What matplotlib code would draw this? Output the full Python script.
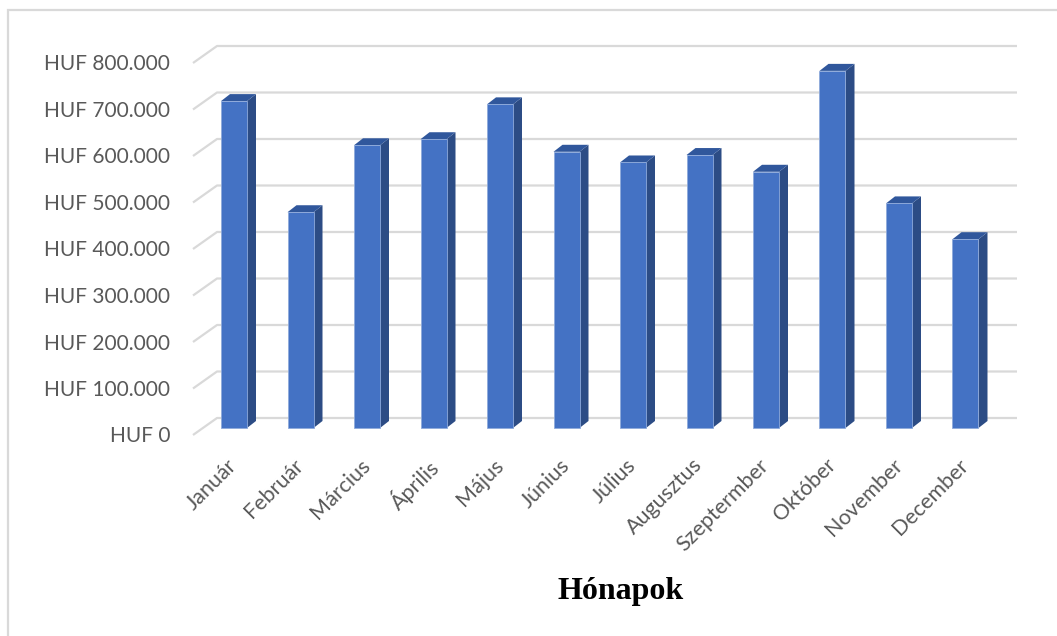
import matplotlib
matplotlib.use("Agg")
import matplotlib.pyplot as plt
from matplotlib.patches import Rectangle, Polygon

# ---- data -------------------------------------------------------------
months = ["Január", "Február", "Március", "Április", "Május", "Június",
          "Július", "Augusztus", "Szeptermber", "Október", "November", "December"]
revenue = [703000, 464000, 608000, 621000, 696000, 594000,
           571000, 587000, 551000, 768000, 483000, 406000]
y_ticks = [0, 100000, 200000, 300000, 400000, 500000, 600000, 700000, 800000]
x_title = "Hónapok"


def huf(v):
    s = f"{v:,}".replace(",", ".")
    return f"HUF {s}"


# ---- layout (pixels) ----------------------------------------------------
W, H, DPI = 1057, 636, 100
CAT_PX = 66.5            # distance between category centres
UNIT_PX = 46.5 / 100000  # pixels per HUF
AX_L, AX_R = 193, 1017   # horizontal extent of the plot region
AX_T, AX_B = 40, 440     # vertical extent of the plot region
ZERO_ROW = 428           # row of the value 0 at the bar plane
FIRST_CENTER = 234       # column of the first category centre

fig = plt.figure(figsize=(W / DPI, H / DPI), dpi=DPI)
fig.patch.set_facecolor("white")

ax = fig.add_axes([AX_L / W, (H - AX_B) / H, (AX_R - AX_L) / W, (AX_B - AX_T) / H])
x0 = (AX_L - FIRST_CENTER) / CAT_PX
x1 = (AX_R - FIRST_CENTER) / CAT_PX
ax.set_xlim(x0, x1)
ax.set_ylim(-(AX_B - ZERO_ROW) / UNIT_PX, (ZERO_ROW - AX_T) / UNIT_PX)
ax.axis("off")


def px_x(p):
    return p / CAT_PX


def px_y(p):
    return p / UNIT_PX


# chart-area frame
fig.add_artist(Rectangle((8 / W, -0.1), 1.2, 1.1 - 10 / H, transform=fig.transFigure,
                         fill=False, edgecolor="#d9d9d9", linewidth=1.6))

# gridlines on the back wall with perspective stubs on the floor
grid_c = "#d9d9d9"
front_dy, back_dy, back_dx = px_y(7), px_y(10), px_x(24)
for v in y_ticks:
    ax.plot([x0, x0 + back_dx, x1], [v - front_dy, v + back_dy, v + back_dy],
            color=grid_c, lw=1.6, solid_capstyle="butt", clip_on=False, zorder=1)
    ax.text(x0 - px_x(23), v - front_dy - px_y(1.5), huf(v), ha="right", va="center",
            fontsize=15, family="Lato", color="#595959")

# 3D-looking bars: front face, side face, top face
bw = 26 / CAT_PX
ddx, ddy = px_x(9), px_y(7)
front_c, side_c, top_c = "#4472C4", "#2C4C85", "#30579C"
for i, v in enumerate(revenue):
    l, r = i - bw / 2, i + bw / 2
    ax.add_patch(Polygon([(r, 0), (r + ddx, ddy), (r + ddx, v + ddy), (r, v)],
                         closed=True, facecolor=side_c, edgecolor="none", zorder=3))
    ax.add_patch(Polygon([(l, v), (r, v), (r + ddx, v + ddy), (l + ddx, v + ddy)],
                         closed=True, facecolor=top_c, edgecolor="none", zorder=3))
    ax.bar(i, v, width=bw, color=front_c, edgecolor="#8eaadb", linewidth=0.6, zorder=4)

# category labels
for i, m in enumerate(months):
    ax.text(i - px_x(7), -px_y(27), m, rotation=45, rotation_mode="anchor",
            ha="right", va="top", fontsize=15.5, family="Lato", color="#595959")

fig.text(621 / W, 1 - 591 / H, x_title, ha="center", va="center",
         fontsize=23, family="Liberation Serif", fontweight="bold", color="black")

fig.savefig("out.png", dpi=DPI, facecolor="white")
